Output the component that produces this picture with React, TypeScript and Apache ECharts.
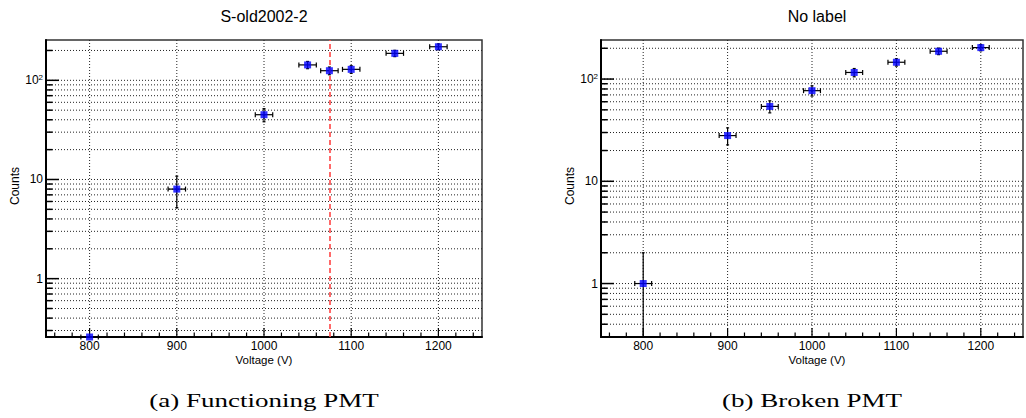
import React, { useEffect, useRef } from "react";
import * as echarts from "echarts";

// ---------------- data ----------------
const leftTitle = "S-old2002-2";
const rightTitle = "No label";
const leftCaption = "(a) Functioning PMT";
const rightCaption = "(b) Broken PMT";
const xAxisName = "Voltage (V)";
const yAxisName = "Counts";

const leftVoltage = [800, 900, 1000, 1050, 1075, 1100, 1150, 1200];
const leftCounts = [0.258, 8, 45, 143, 125, 129, 187, 218];
const leftCountErr = [0, 2.8, 6.8, 12, 11.2, 11.4, 13.7, 14.8];

const rightVoltage = [800, 900, 950, 1000, 1050, 1100, 1150, 1200];
const rightCounts = [1, 28, 54, 77, 116, 146, 187, 203];
const rightCountErr = [1, 5.3, 7.3, 8.8, 10.8, 12.1, 13.7, 14.2];

const voltageErr = 10;
const markerVoltage = 1075;

const xMin = 750;
const xMax = 1250;
const leftYMin = 0.258;
const leftYMax = 255;
const rightYMin = 0.3;
const rightYMax = 241;

const xMajorTicks = [800, 900, 1000, 1100, 1200];
const xMinorTicks = [
  760, 780, 820, 840, 860, 880, 920, 940, 960, 980, 1020, 1040, 1060, 1080,
  1120, 1140, 1160, 1180, 1220, 1240,
];
const yMajorTicks = [1, 10, 100];
const yMinorTicks = [
  0.3, 0.4, 0.5, 0.6, 0.7, 0.8, 0.9, 2, 3, 4, 5, 6, 7, 8, 9, 20, 30, 40, 50,
  60, 70, 80, 90, 200,
];

// ---------------- styling ----------------
const SANS = "'Liberation Sans', Arial, Helvetica, sans-serif";
const SERIF = "'Liberation Serif', 'Times New Roman', serif";

function yLabel(v: number) {
  const l = Math.log10(v);
  const r = Math.round(l);
  if (Math.abs(l - r) > 1e-6) return "";
  if (r === 2) return "{a|10}{s|2}";
  return String(Math.round(Math.pow(10, r)));
}

function hGridItem(params: any, api: any) {
  const v = api.value(1);
  const major = api.value(2);
  const cs = params.coordSys;
  const y = api.coord([xMin, v])[1];
  return {
    type: "group",
    children: [
      {
        type: "line",
        shape: { x1: cs.x, y1: y, x2: cs.x + cs.width, y2: y },
        style: { stroke: "#222", lineWidth: 1, lineDash: [1, 2] },
      },
      {
        type: "line",
        shape: { x1: cs.x, y1: y, x2: cs.x + (major ? 13 : 6.5), y2: y },
        style: { stroke: "#000", lineWidth: 1.5 },
      },
    ],
  };
}

function vGridItem(params: any, api: any) {
  const v = api.value(0);
  const major = api.value(2);
  const cs = params.coordSys;
  const x = api.coord([v, api.value(1)])[0];
  const bottom = cs.y + cs.height;
  const children: any[] = [];
  if (major) {
    children.push({
      type: "line",
      shape: { x1: x, y1: cs.y, x2: x, y2: bottom },
      style: { stroke: "#222", lineWidth: 1, lineDash: [1, 2] },
    });
  }
  children.push({
    type: "line",
    shape: { x1: x, y1: bottom, x2: x, y2: bottom - (major ? 9 : 4.5) },
    style: { stroke: "#000", lineWidth: 1.2 },
  });
  return { type: "group", children };
}

function errItem(params: any, api: any) {
  const x = api.value(0);
  const y = api.value(1);
  const xe = api.value(2);
  const ye = api.value(3);
  const cs = params.coordSys;
  const bottomEdge = cs.y + cs.height;
  const c = api.coord([x, y]);
  const l = api.coord([x - xe, y]);
  const r = api.coord([x + xe, y]);
  const st = { stroke: "#000", lineWidth: 1.2 };
  const children: any[] = [
    { type: "line", shape: { x1: l[0], y1: c[1], x2: r[0], y2: c[1] }, style: st },
    { type: "line", shape: { x1: l[0], y1: c[1] - 2.5, x2: l[0], y2: c[1] + 2.5 }, style: st },
    { type: "line", shape: { x1: r[0], y1: c[1] - 2.5, x2: r[0], y2: c[1] + 2.5 }, style: st },
  ];
  if (ye > 0) {
    const t = api.coord([x, y + ye])[1];
    let b = y - ye > 0 ? api.coord([x, y - ye])[1] : bottomEdge;
    if (b > bottomEdge) b = bottomEdge;
    children.push({ type: "line", shape: { x1: c[0], y1: t, x2: c[0], y2: b }, style: st });
    children.push({ type: "line", shape: { x1: c[0] - 1.5, y1: t, x2: c[0] + 1.5, y2: t }, style: st });
    if (y - ye > 0)
      children.push({ type: "line", shape: { x1: c[0] - 1.5, y1: b, x2: c[0] + 1.5, y2: b }, style: st });
  }
  return { type: "group", children };
}

function buildOption() {
  const grids = [
    { left: 46, top: 40, width: 436, height: 297 },
    { left: 601, top: 40, width: 432, height: 297 },
  ].map((g) => ({
    ...g,
    show: true,
    backgroundColor: "#fff",
    borderColor: "#333",
    borderWidth: 1.5,
  }));

  const xAxes = [0, 1].map((i) => ({
    type: "value",
    gridIndex: i,
    min: xMin,
    max: xMax,
    interval: 50,
    axisLine: { show: true, onZero: false, lineStyle: { color: "#000", width: 2 } },
    axisTick: { show: false },
    splitLine: { show: false },
    axisLabel: {
      margin: 3,
      fontFamily: SANS,
      fontSize: 12,
      color: "#000",
      formatter: (v: number) => (v % 100 === 0 ? String(v) : ""),
    },
  }));

  const yAxes = [
    [leftYMin, leftYMax],
    [rightYMin, rightYMax],
  ].map(([mn, mx], i) => ({
    type: "log",
    logBase: 10,
    gridIndex: i,
    min: mn,
    max: mx,
    axisLine: { show: true, onZero: false, lineStyle: { color: "#000", width: 2 } },
    axisTick: { show: false },
    splitLine: { show: false },
    axisLabel: {
      margin: 3,
      fontFamily: SANS,
      fontSize: 12,
      color: "#000",
      formatter: yLabel,
      rich: {
        a: { fontFamily: SANS, fontSize: 12, color: "#000", lineHeight: 14 },
        s: { fontFamily: SANS, fontSize: 8, color: "#000", lineHeight: 8, verticalAlign: "top" },
      },
    },
  }));

  const series: any[] = [];
  const panels = [
    { x: leftVoltage, y: leftCounts, e: leftCountErr, yMin: leftYMin },
    { x: rightVoltage, y: rightCounts, e: rightCountErr, yMin: rightYMin },
  ];
  panels.forEach((p, i) => {
    const hData = [
      ...yMajorTicks.map((v) => [xMin, v, 1]),
      ...yMinorTicks.filter((v) => v > p.yMin * 1.001).map((v) => [xMin, v, 0]),
    ];
    const vData = [
      ...xMajorTicks.map((v) => [v, p.yMin, 1]),
      ...xMinorTicks.map((v) => [v, p.yMin, 0]),
    ];
    series.push({
      type: "custom",
      xAxisIndex: i,
      yAxisIndex: i,
      silent: true,
      z: 1,
      clip: false,
      renderItem: hGridItem,
      data: hData,
    });
    series.push({
      type: "custom",
      xAxisIndex: i,
      yAxisIndex: i,
      silent: true,
      z: 1,
      clip: false,
      renderItem: vGridItem,
      data: vData,
    });
    series.push({
      type: "custom",
      xAxisIndex: i,
      yAxisIndex: i,
      silent: true,
      z: 3,
      clip: false,
      renderItem: errItem,
      data: p.x.map((v, k) => [v, p.y[k], voltageErr, p.e[k]]),
    });
    const sc: any = {
      type: "scatter",
      xAxisIndex: i,
      yAxisIndex: i,
      symbol: "rect",
      symbolSize: 7,
      z: 5,
      itemStyle: { color: "#0000ff" },
      data: p.x.map((v, k) => [v, p.y[k]]),
    };
    if (i === 0) {
      sc.markLine = {
        silent: true,
        symbol: ["none", "none"],
        label: { show: false },
        lineStyle: { color: "#ff4d4d", type: [5, 3], width: 2, opacity: 0.85 },
        data: [{ xAxis: markerVoltage }],
      };
    }
    series.push(sc);
  });

  const txt = (x: number, y: number, text: string, size: number, extra: any = {}) => ({
    type: "text",
    x,
    y,
    z: 10,
    ...extra,
    style: {
      text,
      fontFamily: SANS,
      fontSize: size,
      fill: "#000",
      align: "center",
      verticalAlign: "middle",
      ...(extra.style || {}),
    },
  });

  const graphic = [
    txt(264, 16, leftTitle, 16),
    txt(817, 16, rightTitle, 16),
    txt(264, 360, xAxisName, 11.5),
    txt(817, 360, xAxisName, 11.5),
    txt(15, 186, yAxisName, 12, { rotation: Math.PI / 2 }),
    txt(570, 186, yAxisName, 12, { rotation: Math.PI / 2 }),
    txt(264, 401, leftCaption, 18, { scaleX: 1.5, style: { fontFamily: SERIF } }),
    txt(812, 401, rightCaption, 18, { scaleX: 1.5, style: { fontFamily: SERIF } }),
  ];

  return {
    animation: false,
    backgroundColor: "#fff",
    grid: grids,
    xAxis: xAxes,
    yAxis: yAxes,
    series,
    graphic,
  };
}

export default function App() {
  const ref = useRef<HTMLDivElement>(null);
  useEffect(() => {
    if (!ref.current) return;
    const chart = echarts.init(ref.current, null, { renderer: "svg" });
    chart.setOption(buildOption() as any);
    return () => chart.dispose();
  }, []);
  return (
    <div
      ref={ref}
      style={{ position: "absolute", left: 0, top: 0, width: 1026, height: 418, overflow: "hidden" }}
    />
  );
}
